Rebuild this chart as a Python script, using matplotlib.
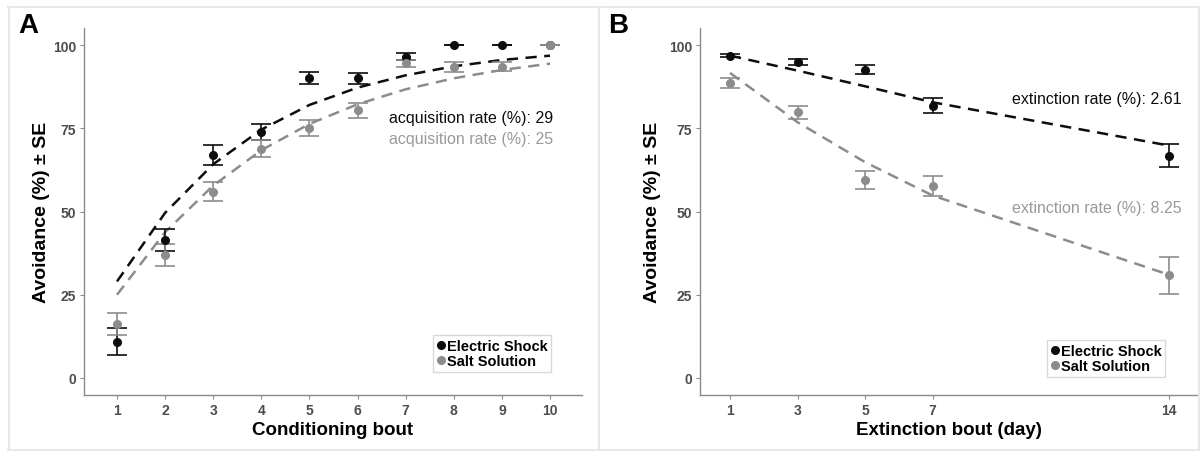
import matplotlib
matplotlib.use("Agg")
import matplotlib.pyplot as plt
from matplotlib.lines import Line2D

plt.rcParams['font.family'] = ['Liberation Sans', 'DejaVu Sans']

# Panel A: conditioning
bout_a = [1, 2, 3, 4, 5, 6, 7, 8, 9, 10]
shock_a = [10.9, 41.5, 67.0, 74.0, 90.1, 90.0, 96.5, 100, 100, 100]
shock_a_se = [4.0, 3.3, 2.9, 2.4, 1.7, 1.7, 1.0, 0, 0, 0]
salt_a = [16.1, 36.9, 56.0, 68.9, 75.2, 80.4, 94.5, 93.5, 93.5, 100]
salt_a_se = [3.3, 3.2, 2.9, 2.6, 2.4, 2.3, 1.1, 1.5, 1.4, 0]
shock_a_fit = [29.0, 49.6, 64.2, 74.6, 82.0, 87.2, 90.9, 93.6, 95.5, 96.8]
salt_a_fit = [25.0, 43.8, 57.8, 68.4, 76.3, 82.2, 86.7, 90.0, 92.5, 94.4]

# Panel B: extinction
day_b = [1, 3, 5, 7, 14]
shock_b = [96.8, 94.8, 92.6, 81.8, 66.8]
shock_b_se = [0.5, 0.9, 1.3, 2.2, 3.5]
salt_b = [88.6, 79.8, 59.5, 57.7, 30.8]
salt_b_se = [1.5, 2.0, 2.8, 3.1, 5.5]
shock_b_fit = [96.8, 92.3, 87.6, 82.8, 69.8]
salt_b_fit = [91.6, 76.8, 64.8, 54.8, 31.0]

labels = ["Electric Shock", "Salt Solution"]
BLACK = "#0d0d0d"
GRAY = "#8c8c8c"
W, H = 1201, 452


def fig_ax(fig, left, right, top, bottom):
    return fig.add_axes([left / W, 1 - bottom / H, (right - left) / W, (bottom - top) / H])


def style(ax, xticks, xlabel, ypad):
    for s in ["top", "right"]:
        ax.spines[s].set_visible(False)
    for s in ["left", "bottom"]:
        ax.spines[s].set_color("#8a8a8a")
        ax.spines[s].set_linewidth(1.0)
    ax.set_ylim(-5, 105)
    ax.set_yticks([0, 25, 50, 75, 100])
    ax.set_xticks(xticks)
    ax.tick_params(length=2.8, width=0.8, color="#8a8a8a", labelcolor="#4d4d4d",
                   labelsize=10, pad=3)
    for t in ax.get_xticklabels() + ax.get_yticklabels():
        t.set_fontweight("bold")
    ax.set_xlabel(xlabel, fontsize=13.5, fontweight="bold", labelpad=3)
    ax.set_ylabel("Avoidance (%) ± SE", fontsize=14, fontweight="bold", labelpad=ypad)


def draw(ax, x, ys, ses, fits):
    for fit, c in zip(fits, [BLACK, GRAY]):
        ax.plot(x, fit, color=c, lw=1.8, ls=(0, (4.5, 3)), zorder=2)
    for y, se, c, lab in zip(ys, ses, [BLACK, GRAY], labels):
        ax.errorbar(x, y, yerr=se, fmt="o", color=c, ms=5.5, capsize=7,
                    elinewidth=1.2, capthick=1.2, label=lab, zorder=3)


fig = plt.figure(figsize=(W / 100, H / 100), dpi=100)

# Panel A
axA = fig_ax(fig, 84, 582, 29.35, 395.65)
draw(axA, bout_a, [shock_a, salt_a], [shock_a_se, salt_a_se], [shock_a_fit, salt_a_fit])
axA.set_xlim(0.314, 10.665)
style(axA, bout_a, "Conditioning bout", 2)
axA.text(10.06, 78.3, "acquisition rate (%): 29", color=BLACK, fontsize=11.5,
         ha="right", va="center")
axA.text(10.06, 71.8, "acquisition rate (%): 25", color="#9a9a9a", fontsize=11.5,
         ha="right", va="center")

# Panel B
axB = fig_ax(fig, 700.3, 1197, 29.35, 395.65)
draw(axB, day_b, [shock_b, salt_b], [shock_b_se, salt_b_se], [shock_b_fit, salt_b_fit])
axB.set_xlim(0.118, 14.83)
style(axB, day_b, "Extinction bout (day)", 6)
axB.text(14.38, 83.8, "extinction rate (%): 2.61", color=BLACK, fontsize=11.5,
         ha="right", va="center")
axB.text(14.38, 51.2, "extinction rate (%): 8.25", color="#9a9a9a", fontsize=11.5,
         ha="right", va="center")

for ax, right, bottom in [(axA, 551, 373), (axB, 1165, 378)]:
    handles = [Line2D([], [], marker="o", ls="", color=c, ms=5.5) for c in [BLACK, GRAY]]
    leg = ax.legend(handles, labels, loc="lower right",
                    bbox_to_anchor=(right / W, 1 - bottom / H),
                    bbox_transform=fig.transFigure, frameon=True, fancybox=False,
                    prop={"size": 10.5, "weight": "bold"}, handlelength=0.5,
                    handletextpad=0.15, borderpad=0.25, labelspacing=0.1,
                    borderaxespad=0)
    leg.get_frame().set_edgecolor("#d0d0d0")
    leg.get_frame().set_linewidth(1.0)

# panel letters
fig.text(18 / W, 1 - 26 / H, "A", fontsize=20, fontweight="bold", va="center")
fig.text(608 / W, 1 - 26 / H, "B", fontsize=20, fontweight="bold", va="center")

# light frame around the panels
frame = "#e8e8e8"
for xs, ys in [([8, 1199], [7.5, 7.5]), ([8, 1199], [450.5, 450.5]),
               ([8.5, 8.5], [7.5, 450.5]), ([599, 599], [7.5, 450.5]),
               ([1199, 1199], [7.5, 450.5])]:
    fig.add_artist(Line2D([x / W for x in xs], [1 - y / H for y in ys],
                          color=frame, lw=1.5))

fig.savefig("out.png", dpi=100)
